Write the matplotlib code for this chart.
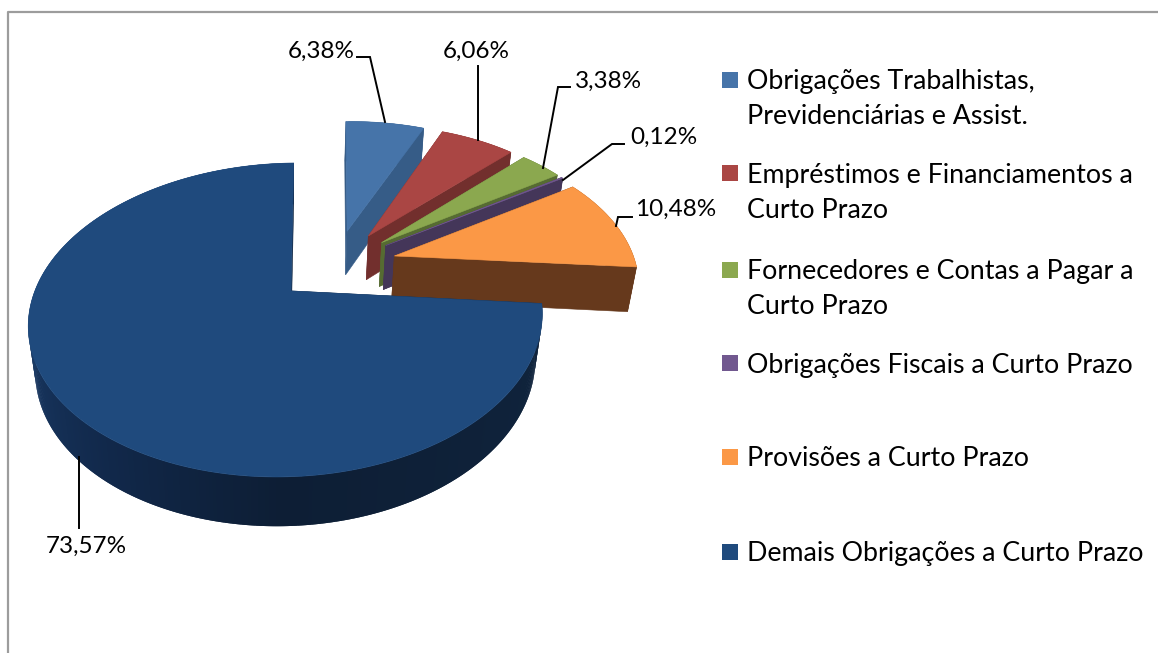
import numpy as np
import matplotlib
matplotlib.use("Agg")
import matplotlib.pyplot as plt
from matplotlib.patches import Polygon, Rectangle

# ---- data ----
categories = [["Obrigações Trabalhistas,", "Previdenciárias e Assist."],
              ["Empréstimos e Financiamentos a", "Curto Prazo"],
              ["Fornecedores e Contas a Pagar a", "Curto Prazo"],
              ["Obrigações Fiscais a Curto Prazo"],
              ["Provisões a Curto Prazo"],
              ["Demais Obrigações a Curto Prazo"]]
shares = [6.38, 6.06, 3.38, 0.12, 10.48, 73.57]
labels = ["6,38%", "6,06%", "3,38%", "0,12%", "10,48%", "73,57%"]

# ---- style ----
top_colors = ["#4674A9", "#AA4644", "#8BA84F", "#71588F", "#FB9846", "#1F4A7D"]
wall_colors = ["#365C87", "#722F2D", "#566B32", "#443659", "#66391C", "#0F2540"]
FONT = "Lato"
plt.rcParams["font.family"] = [FONT, "DejaVu Sans"]

CX, CY = 286.0, 291.0
R, H, K = 252.6, 151.6, 0.1847
D, M = 46.5, -0.027
SKEW = 4.0
TILT = 4.0
EXPL = 0.25
RAD_EX = 0.98
APEX_SHIFT = 0.02
EX_SHIFT_U = 0.012
EX_SHIFT_V = 0.008
FIRST = 1.0


def project(u, v, z=0.0):
    w = 1 + K * v + M * z
    return CX + R * u / w + SKEW * v, CY - (H * v + D * z) / w - TILT * u


fig = plt.figure(figsize=(11.58, 6.53), dpi=100)
ax = fig.add_axes([0, 0, 1, 1])
ax.set_xlim(0, 1158)
ax.set_ylim(653, 0)
ax.axis("off")

# chart frame
ax.plot([1158, 8, 8], [12, 12, 653], color="#9C9C9C", lw=1.6, solid_capstyle="butt")

total = sum(shares)
fr = np.array(shares) / total * 360
starts = FIRST + np.concatenate([[0], np.cumsum(fr)[:-1]])
main_idx = len(shares) - 1
mid_main = np.radians(starts[main_idx] + fr[main_idx] / 2)


def main_side_color(a):
    a = a % 360
    stops_a = [95, 130, 180, 215, 250, 275, 300]
    r = np.interp(a, stops_a, [0x10, 0x0F, 0x0D, 0x11, 0x17, 0x1D, 0x1E])
    g = np.interp(a, stops_a, [0x24, 0x22, 0x1E, 0x28, 0x35, 0x42, 0x44])
    b = np.interp(a, stops_a, [0x3E, 0x3A, 0x35, 0x4A, 0x5E, 0x72, 0x75])
    return (r / 255, g / 255, b / 255)


for i, (s, w) in enumerate(zip(starts, fr)):
    mid = np.radians(s + w / 2)
    is_main = i == main_idx
    ox = EXPL * (np.sin(mid) - np.sin(mid_main))
    oy = EXPL * (np.cos(mid) - np.cos(mid_main))
    if not is_main:
        ox += EX_SHIFT_U
        oy += EX_SHIFT_V
    rad = 1.0 if is_main else RAD_EX
    ax_u = ox + (APEX_SHIFT if is_main else 0.0)
    angs = np.radians(np.linspace(s, s + w, max(3, int(w * 1.5))))
    us = ox + rad * np.sin(angs)
    vs = oy + rad * np.cos(angs)
    # cut walls
    for a_u, a_v in ((us[0], vs[0]), (us[-1], vs[-1])):
        q = [project(ax_u, oy), project(a_u, a_v), project(a_u, a_v, -1), project(ax_u, oy, -1)]
        ax.add_patch(Polygon(q, closed=True, fc=wall_colors[i], ec=wall_colors[i], lw=0.4))
    # outer wall: overlapping quads so no seams show
    for j in range(len(angs) - 1):
        k2 = min(j + 2, len(angs) - 1)
        idx = list(range(j, k2 + 1))
        q = [project(us[n], vs[n]) for n in idx] + [project(us[n], vs[n], -1) for n in idx[::-1]]
        col = main_side_color(np.degrees(angs[j])) if is_main else wall_colors[i]
        ax.add_patch(Polygon(q, closed=True, fc=col, ec="none"))
    # top surface
    top = [project(ax_u, oy)] + [project(a, b) for a, b in zip(us, vs)]
    ax.add_patch(Polygon(top, closed=True, fc=top_colors[i], ec=top_colors[i], lw=0.4))

# leader lines and data labels
leaders = [([357, 370, 385], [57, 57, 122]),
           ([478, 478], [66, 140]),
           ([570, 558, 543], [87, 87, 168]),
           ([624, 612, 563], [144, 144, 180]),
           ([632, 618, 616], [217, 217, 226]),
           ([79, 79], [457, 528])]
label_pos = [(321, 51), (476, 51), (609, 81), (664, 137), (676, 209), (86, 546)]
for (xs, ys), lab, (lx, ly) in zip(leaders, labels, label_pos):
    ax.plot(xs, ys, color="black", lw=1.4, solid_joinstyle="miter")
    ax.text(lx, ly, lab, ha="center", va="center", fontsize=17.5, color="black")

# legend
legend_y = [(80, 115), (173, 209), (270, 304), (363,), (457,), (552,)]
for cat, ys, col in zip(categories, legend_y, top_colors):
    ax.add_patch(Rectangle((722, ys[0] - 8), 16, 16, fc=col, ec="none"))
    for line, y in zip(cat, ys):
        ax.text(747, y + 2, line, ha="left", va="center", fontsize=19.3, color="black")

fig.savefig("out.png", dpi=100)
